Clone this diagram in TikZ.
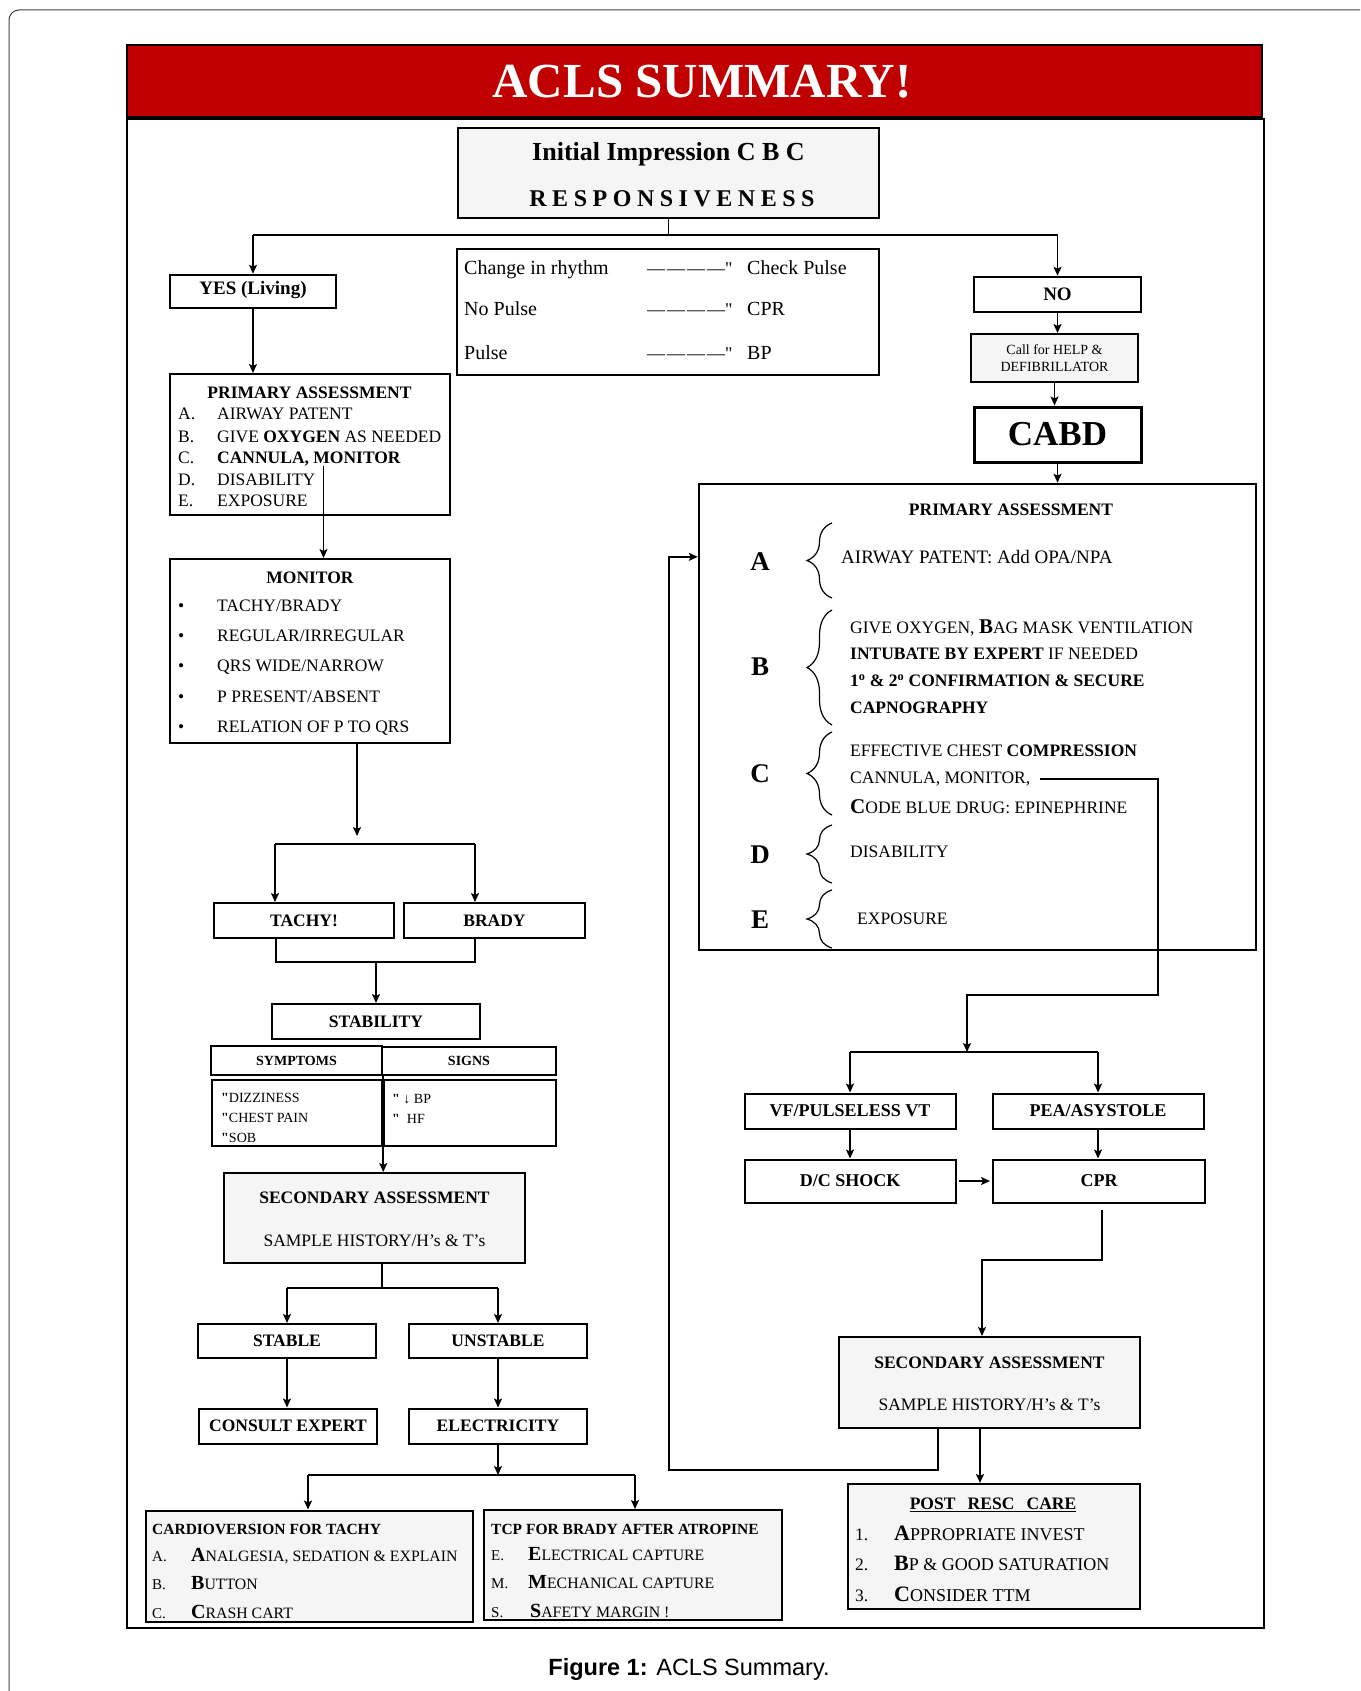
\documentclass[tikz,border=0pt]{standalone}
\usepackage{fontspec}
\setmainfont{Liberation Serif}
\newfontfamily\capfont{Liberation Sans}
\newfontfamily\qfont{Liberation Serif}[Ligatures=TeXOff]
\usetikzlibrary{arrows.meta,decorations.pathreplacing}
\definecolor{aclsred}{RGB}{192,0,0}
\definecolor{boxgray}{RGB}{245,245,245}
\newcommand{\fsz}[1]{\fontsize{#1}{#1}\selectfont}
\newcommand{\ini}[3][21]{{\bfseries\fontsize{#1}{#1}\selectfont #2}#3}
\newcommand{\qmark}{{\qfont"}}
\newcommand{\dashes}{{\fsz{18}—\kern2pt—\kern2pt—\kern2pt—\qmark}}
\begin{document}
\begin{tikzpicture}[x=1pt,y=-1pt,
  box/.style={draw,line width=2pt,fill=white,inner sep=0pt},
  graybox/.style={box,fill=boxgray},
  lbl/.style={font=\bfseries\fsz{17.5}},
  txt/.style={anchor=mid west,inner sep=0pt,yshift=-4pt,font=\fsz{17.5}},
  line/.style={line width=1.8pt},
  arr/.style={line,-{Stealth[length=9pt,width=8pt,inset=2pt]}},
  brc/.style={decorate,decoration={brace,amplitude=25pt},line width=1.2pt}]
\fill[white] (0,0) rectangle (1360,1691);
\useasboundingbox (0,0) rectangle (1360,1691);
\draw[line width=1pt,black!75,rounded corners=10pt] (9,1691) -- (9,10) -- (1360,10);

% banner and frame
\node[fill=aclsred,draw=black,line width=2pt,minimum width=1135pt,minimum height=72pt,inner sep=0pt] (banner) at (694.5,81) {};
\node[text=white,font=\bfseries\fsz{49}] (title) at (702,82) {ACLS SUMMARY!};
\node[draw,line width=2pt,minimum width=1137pt,minimum height=1509pt,inner sep=0pt] (frame) at (695.5,873.5) {};

% initial impression
\node[graybox,line width=2.5pt,minimum width=421pt,minimum height=90pt] (impr) at (668.5,173) {};
\node[font=\bfseries\fsz{26}] (imprA) at (668.5,154) {Initial Impression C B C};
\node[font={\bfseries\fsz{24}\addfontfeature{LetterSpace=23}}] (imprB) at (672,199) {RESPONSIVENESS};
\coordinate (s1) at (669,235);

\node[box,line width=2.5pt,minimum width=166pt,minimum height=33pt,text height=0.68em,text depth=0pt,font=\bfseries\fsz{19}] (yes) at (253,291.5) {YES (Living)};
\node[box,line width=2.5pt,minimum width=167pt,minimum height=35pt,font=\bfseries\fsz{19}] (no) at (1057.5,294.5) {NO};

% pulse box
\node[box,line width=2.5pt,minimum width=422pt,minimum height=126pt] (info) at (668,312) {};
\node[txt,font=\fsz{20}] (inf1) at (464,268.5) {Change in rhythm};
\node[txt,font=\fsz{20}] (inf2) at (464,309.5) {No Pulse};
\node[txt,font=\fsz{20}] (inf3) at (464,353.5) {Pulse};
\node[txt] (dsh1) at (647,268.5) {\dashes};
\node[txt] (dsh2) at (647,309.5) {\dashes};
\node[txt] (dsh3) at (647,353.5) {\dashes};
\node[txt,font=\fsz{20}] (res1) at (747,268.5) {Check Pulse};
\node[txt,font=\fsz{20}] (res2) at (747,309.5) {CPR};
\node[txt,font=\fsz{20}] (res3) at (747,353.5) {BP};

% no branch
\node[graybox,minimum width=167pt,minimum height=48pt,align=center,font=\fontsize{14}{17}\selectfont] (call) at (1054.5,358) {Call for HELP \&\\DEFIBRILLATOR};
\node[box,line width=3pt,minimum width=167pt,minimum height=55pt,font=\bfseries\fsz{35}] (cabd) at (1057.5,434.5) {CABD};

% left primary assessment
\node[box,minimum width=280pt,minimum height=141pt] (lpa) at (310,444.5) {};
\node[lbl,anchor=mid] (lpat) at (309.5,396) {PRIMARY ASSESSMENT};
\node[txt] (lpa1l) at (178,413) {A.};
\node[txt] (lpa1) at (217,413) {AIRWAY PATENT};
\node[txt] (lpa2l) at (178,436) {B.};
\node[txt] (lpa2) at (217,436) {GIVE \textbf{OXYGEN} AS NEEDED};
\node[txt] (lpa3l) at (178,457) {C.};
\node[txt] (lpa3) at (217,457) {\textbf{CANNULA, MONITOR}};
\node[txt] (lpa4l) at (178,479) {D.};
\node[txt] (lpa4) at (217,479) {DISABILITY};
\node[txt] (lpa5l) at (178,500) {E.};
\node[txt] (lpa5) at (217,500) {EXPOSURE};
\coordinate (m0) at (323.5,466);

% monitor
\node[box,minimum width=280pt,minimum height=184pt] (mon) at (310,651) {};
\node[lbl,anchor=mid] (mont) at (310,581) {MONITOR};
\node[txt] (mb1) at (178,605) {•};
\node[txt] (mi1) at (217,605) {TACHY/BRADY};
\node[txt] (mb2) at (178,635) {•};
\node[txt] (mi2) at (217,635) {REGULAR/IRREGULAR};
\node[txt] (mb3) at (178,665) {•};
\node[txt] (mi3) at (217,665) {QRS WIDE/NARROW};
\node[txt] (mb4) at (178,696) {•};
\node[txt] (mi4) at (217,696) {P PRESENT/ABSENT};
\node[txt] (mb5) at (178,726) {•};
\node[txt] (mi5) at (217,726) {RELATION OF P TO QRS};
\coordinate (m1) at (357,836);
\coordinate (s2l) at (275,844);
\coordinate (s2r) at (475,844);

% tachy / brady
\node[box,minimum width=180pt,minimum height=35pt,lbl] (tachy) at (304,920.5) {TACHY!};
\node[box,minimum width=181pt,minimum height=35pt,lbl] (brady) at (494.5,920.5) {BRADY};
\coordinate (j1l) at (276,962);
\coordinate (j1r) at (475,962);
\node[box,minimum width=208pt,minimum height=35pt,lbl] (stab) at (376,1021.5) {STABILITY};
\node[box,line width=2.5pt,minimum width=171pt,minimum height=29pt,font=\bfseries\fsz{14}] (sympt) at (296.5,1060.5) {SYMPTOMS};
\node[box,minimum width=174pt,minimum height=28pt,font=\bfseries\fsz{14}] (signs) at (469,1060.5) {SIGNS};
\node[box,minimum width=170pt,minimum height=66pt] (symlist) at (297,1113) {};
\node[box,minimum width=172pt,minimum height=66pt] (siglist) at (470,1113) {};
\node[txt,font=\fsz{14}] (sy1) at (221,1096) {\textbf{\qmark}DIZZINESS};
\node[txt,font=\fsz{14}] (sy2) at (221,1116) {\textbf{\qmark}CHEST PAIN};
\node[txt,font=\fsz{14}] (sy3) at (221,1136) {\textbf{\qmark}SOB};
\node[txt,font=\fsz{14}] (sg1) at (392,1097) {\textbf{\qmark} ↓ BP};
\node[txt,font=\fsz{14}] (sg2) at (392,1117) {\textbf{\qmark}\ \ HF};

% left secondary assessment
\node[graybox,minimum width=301pt,minimum height=90pt] (lsec) at (374.5,1218) {};
\node[lbl,anchor=mid] (lsect) at (374.5,1201) {SECONDARY ASSESSMENT};
\node[font=\fsz{17.5},anchor=mid] (lsecs) at (374.5,1244) {SAMPLE HISTORY/H’s \& T’s};
\coordinate (s3) at (382,1288);
\node[box,minimum width=178pt,minimum height=34pt,lbl] (stable) at (287,1341) {STABLE};
\node[box,minimum width=178pt,minimum height=34pt,lbl] (unstable) at (498,1341) {UNSTABLE};
\node[box,minimum width=178pt,minimum height=35pt,lbl] (consult) at (288,1426) {CONSULT EXPERT};
\node[box,minimum width=178pt,minimum height=35pt,lbl] (elect) at (498,1426) {ELECTRICITY};
\coordinate (s4) at (498,1475);
\coordinate (s4l) at (308,1475);
\coordinate (s4r) at (635,1475);

% cardioversion / tcp
\node[graybox,minimum width=327pt,minimum height=111pt] (cardio) at (309,1566) {};
\node[txt,font=\bfseries\fsz{15.5}] (cardt) at (152,1528) {CARDIOVERSION FOR TACHY};
\node[txt,font=\fsz{15}] (ca1l) at (152,1555) {A.};
\node[txt,font=\fsz{15.8}] (ca1) at (191,1555) {\ini[20]{A}{NALGESIA, SEDATION \& EXPLAIN}};
\node[txt,font=\fsz{15}] (ca2l) at (152,1583) {B.};
\node[txt,font=\fsz{15.8}] (ca2) at (191,1583) {\ini[20]{B}{UTTON}};
\node[txt,font=\fsz{15}] (ca3l) at (152,1612) {C.};
\node[txt,font=\fsz{15.8}] (ca3) at (191,1612) {\ini[20]{C}{RASH CART}};
\node[graybox,minimum width=298pt,minimum height=110pt] (tcp) at (633,1565) {};
\node[txt,font=\bfseries\fsz{15.5}] (tcpt) at (491,1528) {TCP FOR BRADY AFTER ATROPINE};
\node[txt,font=\fsz{15}] (tc1l) at (491,1554) {E.};
\node[txt,font=\fsz{15.8}] (tc1) at (528,1554) {\ini[20]{E}{LECTRICAL CAPTURE}};
\node[txt,font=\fsz{15}] (tc2l) at (491,1582) {M.};
\node[txt,font=\fsz{15.8}] (tc2) at (528,1582) {\ini[20]{M}{ECHANICAL CAPTURE}};
\node[txt,font=\fsz{15}] (tc3l) at (491,1611) {S.};
\node[txt,font=\fsz{15.8}] (tc3) at (530,1611) {\ini[20]{S}{AFETY MARGIN !}};

% right primary assessment
\node[box,line width=2.5pt,minimum width=557pt,minimum height=466pt] (rpa) at (977.5,717) {};
\node[lbl,anchor=mid] (rpat) at (1011,513) {PRIMARY ASSESSMENT};
\node[font=\bfseries\fsz{27},anchor=mid] (la) at (760,568) {A};
\node[font=\bfseries\fsz{27},anchor=mid] (lb) at (760,673) {B};
\node[font=\bfseries\fsz{27},anchor=mid] (lc) at (760,780) {C};
\node[font=\bfseries\fsz{27},anchor=mid] (ld) at (760,861) {D};
\node[font=\bfseries\fsz{27},anchor=mid] (le) at (760,926) {E};
\draw[brc] (832,598) -- (832,523);
\draw[brc] (832,725) -- (832,610);
\draw[brc] (832,815) -- (832,732);
\draw[brc] (832,883) -- (832,825);
\draw[brc] (832,948) -- (832,890);
\node[txt,font=\fsz{19}] (arow) at (841,557) {AIRWAY PATENT: Add OPA/NPA};
\node[txt] (brow1) at (850,627) {GIVE OXYGEN, \ini{B}{AG MASK VENTILATION}};
\node[txt] (brow2) at (850,653) {\textbf{INTUBATE BY EXPERT} IF NEEDED};
\node[txt] (brow3) at (850,680) {\textbf{1\textsuperscript{o} \& 2\textsuperscript{o} CONFIRMATION \& SECURE}};
\node[txt] (brow4) at (850,707) {\textbf{CAPNOGRAPHY}};
\node[txt] (crow1) at (850,750) {EFFECTIVE CHEST \textbf{COMPRESSION}};
\node[txt] (crow2) at (850,777) {CANNULA, MONITOR,};
\node[txt] (crow3) at (850,807) {\ini{C}{ODE BLUE DRUG: EPINEPHRINE}};
\node[txt] (drow) at (850,851) {DISABILITY};
\node[txt] (erow) at (857,918) {EXPOSURE};
\coordinate (r1) at (1158,995);
\coordinate (s5) at (967,1052);

% rhythms
\node[box,minimum width=211pt,minimum height=35pt,font=\bfseries\fsz{18}] (vf) at (850,1111) {VF/PULSELESS VT};
\node[box,minimum width=211pt,minimum height=35pt,font=\bfseries\fsz{18}] (pea) at (1098,1111) {PEA/ASYSTOLE};
\node[box,minimum width=211pt,minimum height=43pt,font=\bfseries\fsz{18}] (dc) at (850,1181) {D/C SHOCK};
\node[box,minimum width=212pt,minimum height=43pt,font=\bfseries\fsz{18}] (cpr) at (1099,1181) {CPR};
\coordinate (r2) at (982,1260);

% right secondary assessment and post care
\node[graybox,minimum width=301pt,minimum height=91pt] (rsec) at (989.5,1382.5) {};
\node[lbl,anchor=mid] (rsect) at (989.5,1366) {SECONDARY ASSESSMENT};
\node[font=\fsz{17.5},anchor=mid] (rsecs) at (989.5,1408) {SAMPLE HISTORY/H’s \& T’s};
\coordinate (lp) at (669,1470);
\node[graybox,minimum width=292pt,minimum height=125pt] (post) at (994,1546.5) {};
\node[lbl,anchor=mid] (postt) at (993,1507) {\underline{POST\hspace{0.7em}RESC\hspace{0.7em}CARE}};
\node[txt] (po1l) at (855,1534) {1.};
\node[txt,font=\fsz{18}] (po1) at (894,1534) {\ini[22]{A}{PPROPRIATE INVEST}};
\node[txt] (po2l) at (855,1564) {2.};
\node[txt,font=\fsz{18}] (po2) at (894,1564) {\ini[22]{B}{P \& GOOD SATURATION}};
\node[txt] (po3l) at (855,1595) {3.};
\node[txt,font=\fsz{18}] (po3) at (894,1595) {\ini[22]{C}{ONSIDER TTM}};

\node[font=\capfont\fsz{23.5}] (cap) at (689,1669) {\textbf{Figure 1:} ACLS Summary.};

% connectors, left
\draw[line,line width=1pt] (impr.south) -- (impr.south |- s1);
\draw[line] (yes.north |- s1) -- (no.north |- s1);
\draw[arr] (yes.north |- s1) -- (yes.north);
\draw[arr] (no.north |- s1) -- (no.north);
\draw[arr] (yes.south) -- (yes.south |- lpa.north);
\draw[arr] (m0) -- (m0 |- mon.north);
\draw[arr] (mon.south -| m1) -- (m1);
\draw[line] (s2l) -- (s2r);
\draw[arr] (s2l) -- (s2l |- tachy.north);
\draw[arr] (s2r) -- (s2r |- brady.north);
\draw[line] (j1l |- tachy.south) -- (j1l) -- (j1r) -- (j1r |- brady.south);
\draw[arr] (stab.north |- j1l) -- (stab.north);
\draw[arr] (sympt.south east) -- (sympt.south east |- lsec.north);
\draw[line] (s3 |- lsec.south) -- (s3);
\draw[line] (stable.north |- s3) -- (unstable.north |- s3);
\draw[arr] (stable.north |- s3) -- (stable.north);
\draw[arr] (unstable.north |- s3) -- (unstable.north);
\draw[arr] (stable.south) -- (stable.south |- consult.north);
\draw[arr] (unstable.south) -- (unstable.south |- elect.north);
\draw[arr] (elect.south) -- (s4);
\draw[line] (s4l) -- (s4r);
\draw[arr] (s4l) -- (s4l |- cardio.north);
\draw[arr] (s4r) -- (s4r |- tcp.north);

% connectors, right
\draw[arr] (no.south) -- (no.south |- call.north);
\draw[arr] (call.south) -- (call.south |- cabd.north);
\draw[arr] (cabd.south) -- (cabd.south |- rpa.north);
\draw[arr,line width=1.3pt] ([xshift=10pt]crow2.east) -| (r1) -| (s5);
\draw[line] (vf.north |- s5) -- (pea.north |- s5);
\draw[arr] (vf.north |- s5) -- (vf.north);
\draw[arr] (pea.north |- s5) -- (pea.north);
\draw[arr] (vf.south) -- (dc.north);
\draw[arr] (pea.south) -- (pea.south |- cpr.north);
\draw[arr] ([xshift=2pt]dc.east) -- ([xshift=-2pt]cpr.west);
\draw[arr,line width=1.3pt] ([xshift=3pt,yshift=-6pt]cpr.south) |- (r2) -- (r2 |- rsec.north);
\draw[arr] ([xshift=-9.5pt]rsec.south) -- ([xshift=-9.5pt]rsec.south |- post.north);
\draw[arr,line width=1.3pt] ([xshift=-51.5pt]rsec.south) |- (lp) |- (rpa.west |- arow);
\end{tikzpicture}
\end{document}
